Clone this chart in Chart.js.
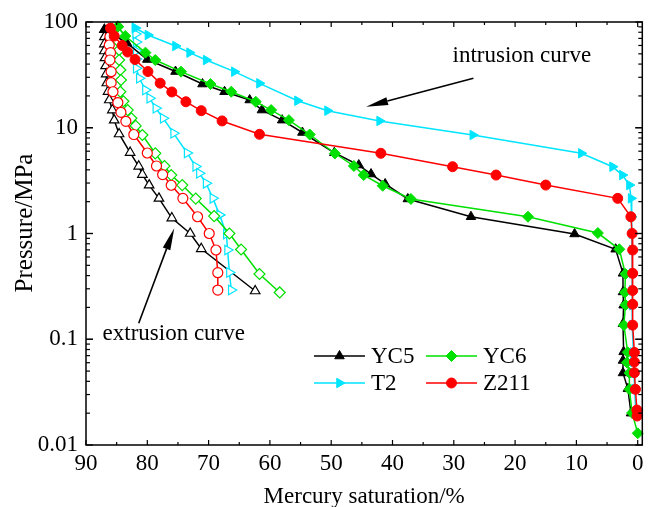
<!DOCTYPE html>
<html>
<head>
<meta charset="utf-8">
<script src="https://cdn.jsdelivr.net/npm/chart.js@4"></script>
<style>
html, body { margin: 0; padding: 0; background: #fff; }
</style>
</head>
<body>
<canvas id="myChart" width="649" height="507"></canvas>
<script>
// axis ticks
var xTicks = [0, 10, 20, 30, 40, 50, 60, 70, 80, 90];
var yTicks = [0.01, 0.1, 1, 10, 100];

// series names
var names = ['YC5', 'YC6', 'T2', 'Z211'];

// intrusion curves (filled markers)
var yc5InX = [87.0, 83.3, 80.0, 75.4, 71.0, 67.4, 63.3, 61.3, 58.0, 54.7, 49.5, 45.5, 43.5, 41.2, 37.5, 27.2, 10.3, 3.6, 2.4, 2.4, 2.3, 2.4, 2.3, 2.4, 2.4, 1.6, 1.1];
var yc5InY = [84.6, 63.0, 44.2, 34.0, 25.9, 21.9, 18.3, 14.7, 11.8, 9.02, 5.8, 4.44, 3.65, 2.94, 2.12, 1.44, 0.99, 0.71, 0.42, 0.28, 0.21, 0.14, 0.076, 0.063, 0.048, 0.034, 0.02];

var yc6InX = [84.8, 83.6, 80.3, 78.7, 74.5, 69.7, 66.3, 62.3, 59.8, 56.9, 53.5, 49.4, 46.3, 44.7, 41.6, 37.0, 17.9, 6.5, 3.0, 2.0, 2.1, 2.0, 2.25, 1.63, 1.76, 1.35, 1.35, 0.91, 0.0];
var yc6InY = [90.3, 73.7, 51.3, 43.7, 33.9, 25.9, 21.9, 17.6, 14.7, 11.8, 8.63, 5.71, 4.35, 3.57, 2.83, 2.12, 1.44, 1.01, 0.709, 0.414, 0.277, 0.211, 0.136, 0.0752, 0.0603, 0.048, 0.0336, 0.0201, 0.0129];

var t2InX = [82.0, 79.9, 75.4, 73.1, 70.4, 65.8, 61.7, 55.5, 50.6, 42.1, 26.9, 9.2, 4.1, 2.5, 1.35, 1.08, 1.0, 0.95, 0.9, 0.9, 0.9, 0.9, 0.9, 0.7, 0.7, 0.6, 0.5, 0.3];
var t2InY = [87.8, 75.4, 59.3, 51.3, 43.7, 33.9, 26.3, 18.0, 14.5, 11.6, 8.54, 5.73, 4.28, 3.57, 2.87, 2.15, 1.44, 1.0, 0.70, 0.42, 0.29, 0.21, 0.136, 0.075, 0.061, 0.048, 0.034, 0.02];

var z211InX = [86.0, 85.4, 84.1, 83.2, 82.0, 79.9, 77.9, 76.0, 73.7, 71.2, 67.8, 61.7, 41.9, 30.2, 23.1, 15.0, 3.26, 1.11, 0.91, 0.82, 0.82, 0.82, 0.82, 0.82, 0.54, 0.54, 0.54, 0.37, 0.13, 0.1];
var z211InY = [87.2, 73.7, 60.0, 52.0, 44.2, 34.0, 26.4, 21.8, 17.6, 14.5, 11.6, 8.67, 5.73, 4.28, 3.57, 2.87, 2.15, 1.44, 1.00, 0.698, 0.420, 0.289, 0.214, 0.136, 0.0749, 0.0610, 0.0483, 0.0336, 0.0214, 0.0188];

// extrusion curves (hollow markers)
var yc5OutX = [87.0, 87.0, 87.0, 87.0, 86.9, 86.8, 86.7, 86.6, 86.4, 86.2, 85.7, 85.4, 84.6, 82.8, 81.4, 80.8, 79.7, 78.1, 76.0, 73.0, 71.2, 62.4];
var yc5OutY = [84.6, 72.2, 61.9, 53.2, 45.7, 38.4, 32.2, 26.5, 22.0, 18.3, 14.7, 11.8, 8.73, 5.83, 4.32, 3.61, 2.87, 2.15, 1.40, 1.00, 0.717, 0.286];

var yc6OutX = [84.8, 84.7, 84.7, 84.6, 84.6, 84.4, 84.3, 84.4, 83.9, 83.2, 82.6, 81.9, 80.8, 78.7, 77.2, 76.1, 74.3, 72.1, 69.1, 66.6, 64.7, 61.7, 58.4];
var yc6OutY = [90.3, 77.0, 65.1, 54.3, 43.7, 35.2, 28.3, 21.9, 17.8, 14.7, 12.3, 10.4, 8.54, 5.73, 4.35, 3.57, 2.87, 2.14, 1.46, 1.0, 0.706, 0.414, 0.277];

var t2OutX = [82.0, 81.9, 81.8, 81.8, 81.8, 81.8, 81.3, 80.3, 79.6, 78.6, 77.4, 75.7, 73.5, 72.1, 71.5, 70.4, 69.3, 68.2, 67.1, 66.9, 66.6, 66.3];
var t2OutY = [87.8, 77.0, 64.7, 53.2, 44.7, 36.5, 29.4, 22.8, 19.0, 15.3, 12.3, 8.86, 5.77, 4.30, 3.71, 2.98, 2.15, 1.50, 0.989, 0.698, 0.428, 0.292];

var z211OutX = [86.0, 86.1, 86.2, 86.0, 86.1, 85.9, 85.9, 85.6, 84.8, 84.3, 83.5, 82.2, 80.0, 78.5, 77.5, 76.1, 74.2, 71.8, 69.9, 68.8, 68.5, 68.5];
var z211OutY = [87.2, 72.6, 60.6, 51.3, 43.7, 33.9, 26.7, 21.9, 17.3, 14.0, 11.5, 8.63, 5.77, 4.35, 3.61, 2.86, 2.15, 1.44, 1.00, 0.698, 0.426, 0.292];

// annotations (data coordinates)
var annoText = ['intrusion curve', 'extrusion curve'];
var annoX = [30.2, 87.3];
var annoY = [41.9, 0.098];
var arrowFromX = [26.8, 81.4];
var arrowFromY = [29.4, 0.1416];
var arrowToX = [44.3, 75.6];
var arrowToY = [15.8, 1.12];

var FONT = "'Times New Roman', 'Liberation Serif', serif";
var colors = { YC5: '#000000', YC6: '#00e000', T2: '#00e5ff', Z211: '#ff0000' };
var styles = {
	YC5: { pointStyle: 'triangle', rotation: 0, radius: 5.5 },
	YC6: { pointStyle: 'rectRot', rotation: 0, radius: 5.5 },
	T2: { pointStyle: 'triangle', rotation: 90, radius: 5.5 },
	Z211: { pointStyle: 'circle', rotation: 0, radius: 5 }
};

function pts(xs, ys) {
	return xs.map(function(x, i) { return { x: x, y: ys[i] }; });
}

function makeSet(name, xs, ys, hollow) {
	var c = colors[name], s = styles[name];
	return {
		label: name + (hollow ? ' out' : ''),
		data: pts(xs, ys),
		showLine: true,
		borderColor: c,
		borderWidth: 1.5,
		backgroundColor: hollow ? '#ffffff' : c,
		pointBackgroundColor: hollow ? '#ffffff' : c,
		pointBorderColor: c,
		pointBorderWidth: hollow ? 1.2 : 1,
		pointStyle: s.pointStyle,
		pointRotation: s.rotation,
		pointRadius: s.radius,
		tension: 0,
		clip: 10
	};
}

// dataset 0 is drawn on top
var datasets = [
	makeSet('Z211', z211InX, z211InY, false),
	makeSet('YC6', yc6InX, yc6InY, false),
	makeSet('T2', t2InX, t2InY, false),
	makeSet('YC5', yc5InX, yc5InY, false),
	makeSet('Z211', z211OutX, z211OutY, true),
	makeSet('YC6', yc6OutX, yc6OutY, true),
	makeSet('T2', t2OutX, t2OutY, true),
	makeSet('YC5', yc5OutX, yc5OutY, true)
];

function line(ctx, x1, y1, x2, y2) {
	ctx.beginPath();
	ctx.moveTo(x1, y1);
	ctx.lineTo(x2, y2);
	ctx.stroke();
}

// box frame with inward ticks on all four sides
var axisFrame = {
	id: 'axisFrame',
	afterDatasetsDraw: function(chart) {
		var ctx = chart.ctx, a = chart.chartArea, x = chart.scales.x, y = chart.scales.y;
		ctx.save();
		ctx.strokeStyle = '#000';
		ctx.lineWidth = 1.5;
		ctx.strokeRect(a.left, a.top, a.right - a.left, a.bottom - a.top);
		ctx.lineWidth = 1.2;
		for (var v = 0; v <= 90; v += 5) {
			var px = x.getPixelForValue(v);
			var len = v % 10 === 0 ? 5 : 3;
			line(ctx, px, a.bottom, px, a.bottom - len);
			line(ctx, px, a.top, px, a.top + len);
		}
		[0.01, 0.1, 1, 10].forEach(function(d) {
			for (var m = 1; m <= 10; m++) {
				var py = y.getPixelForValue(d * m);
				var l = (m === 1 || m === 10) ? 7 : 4;
				line(ctx, a.left, py, a.left + l, py);
				line(ctx, a.right, py, a.right - l, py);
			}
		});
		// y axis title
		ctx.fillStyle = '#000';
		ctx.font = '25px ' + FONT;
		ctx.textAlign = 'center';
		ctx.textBaseline = 'middle';
		ctx.translate(25, 223);
		ctx.rotate(-Math.PI / 2);
		ctx.fillText('Pressure/MPa', 0, 0);
		ctx.restore();
	}
};

function marker(ctx, name, x, y) {
	var s = styles[name];
	ctx.fillStyle = colors[name];
	ctx.strokeStyle = colors[name];
	ctx.lineWidth = 1;
	Chart.helpers.drawPoint(ctx, { pointStyle: s.pointStyle, rotation: s.rotation, radius: s.radius, borderWidth: 1 }, x, y);
}

// annotation arrows, texts and the legend inside the plot
var extras = {
	id: 'extras',
	afterDraw: function(chart) {
		var ctx = chart.ctx, x = chart.scales.x, y = chart.scales.y;
		ctx.save();
		ctx.fillStyle = '#000';
		ctx.strokeStyle = '#000';
		ctx.font = '23px ' + FONT;
		ctx.textBaseline = 'alphabetic';
		ctx.textAlign = 'left';
		for (var i = 0; i < annoText.length; i++) {
			ctx.fillText(annoText[i], x.getPixelForValue(annoX[i]), y.getPixelForValue(annoY[i]));
			var x1 = x.getPixelForValue(arrowFromX[i]), y1 = y.getPixelForValue(arrowFromY[i]);
			var x2 = x.getPixelForValue(arrowToX[i]), y2 = y.getPixelForValue(arrowToY[i]);
			var ang = Math.atan2(y2 - y1, x2 - x1);
			var hl = 22, hw = 4;
			var bx = x2 - hl * Math.cos(ang), by = y2 - hl * Math.sin(ang);
			ctx.lineWidth = 1.6;
			line(ctx, x1, y1, bx, by);
			ctx.beginPath();
			ctx.moveTo(x2, y2);
			ctx.lineTo(bx + hw * Math.sin(ang), by - hw * Math.cos(ang));
			ctx.lineTo(bx - hw * Math.sin(ang), by + hw * Math.cos(ang));
			ctx.closePath();
			ctx.fill();
		}
		// legend
		var rows = [356, 383];
		var cols = [314, 426];
		ctx.textBaseline = 'middle';
		for (var k = 0; k < names.length; k++) {
			var n = names[k];
			var lx = cols[k % 2], ly = rows[Math.floor(k / 2)];
			ctx.strokeStyle = colors[n];
			ctx.lineWidth = 1.5;
			line(ctx, lx, ly, lx + 51, ly);
			marker(ctx, n, lx + 25.5, ly);
			ctx.fillStyle = '#000';
			ctx.fillText(n, lx + 57, ly + 1);
		}
		ctx.restore();
	}
};

var ctx = document.getElementById('myChart');
var myChart = new Chart(ctx, {
	type: 'scatter',
	data: { datasets: datasets },
	options: {
		responsive: false,
		animation: false,
		layout: { padding: { top: 22, right: 6, left: 0, bottom: 0 } },
		plugins: { legend: { display: false }, tooltip: { enabled: false } },
		scales: {
			x: {
				type: 'linear',
				reverse: true,
				min: -0.75,
				max: 90,
				afterBuildTicks: function(s) { s.ticks = xTicks.map(function(v) { return { value: v }; }); },
				afterFit: function(s) { s.height = 62; },
				grid: { display: false, drawTicks: false },
				border: { display: false },
				ticks: {
					color: '#000',
					font: { family: FONT, size: 23 },
					padding: 5,
					maxRotation: 0,
					autoSkip: false,
					callback: function(v) { return String(v); }
				},
				title: {
					display: true,
					text: 'Mercury saturation/%',
					color: '#000',
					font: { family: FONT, size: 23 },
					padding: { top: 0, bottom: -4 }
				}
			},
			y: {
				type: 'logarithmic',
				min: 0.01,
				max: 100,
				afterBuildTicks: function(s) { s.ticks = yTicks.map(function(v) { return { value: v }; }); },
				afterFit: function(s) { s.width = 86; },
				grid: { display: false, drawTicks: false },
				border: { display: false },
				ticks: {
					color: '#000',
					font: { family: FONT, size: 23 },
					padding: 8,
					autoSkip: false,
					callback: function(v) { return String(v); }
				}
			}
		}
	},
	plugins: [axisFrame, extras]
});
</script>
</body>
</html>
